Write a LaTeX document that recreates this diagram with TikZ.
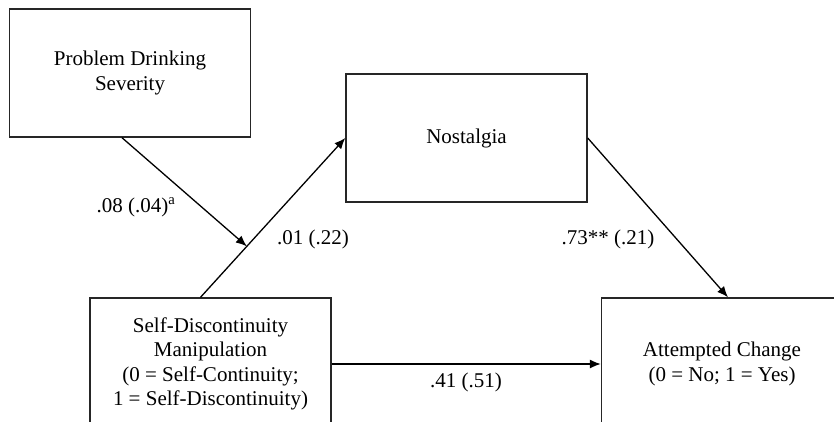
\documentclass[tikz,border=0pt]{standalone}
\usepackage{fontspec}
\setmainfont{Liberation Serif}
\usepackage{tikz}
\usetikzlibrary{positioning,arrows.meta,calc}
\tikzset{
  var/.style={rectangle,draw=black!85,line width=1.4pt,align=center,inner sep=0pt,minimum width=241pt,minimum height=128pt},
  tallvar/.style={var,minimum height=132pt},
  coef/.style={inner sep=1pt},
  edge/.style={-{Latex[length=11pt,width=9pt]},line width=1.3pt}
}

\begin{document}
\begin{tikzpicture}[x=1pt,y=-1pt,font=\fontsize{21}{24.5}\selectfont]
  \useasboundingbox (0,0) rectangle (834,421);
  \clip (0,0) rectangle (834,421);
  \node[var] (pds) at (130,73) {Problem Drinking\\Severity};
  \node[var] (nost) at (466.5,138) {Nostalgia};
  \node[tallvar] (sd) at (210.5,364) {Self-Discontinuity\\Manipulation\\(0 = Self-Continuity;\\1 = Self-Discontinuity)};
  \node[tallvar] (att) at (722,364) {Attempted Change\\(0 = No; 1 = Yes)};
  \coordinate (sdtop) at ($(sd.north)+(-10,0)$);
  \draw[edge] (sdtop) -- (nost.west) coordinate[pos=0.32] (mod);
  \draw[edge] ($(pds.south)+(-8,0)$) -- (mod);
  \draw[edge] (nost.east) -- ($(att.north)+(6,0)$);
  \draw[edge] (sd.east) -- (att.west);
  \node[coef] (lmod) at (136,207) {.08 (.04)\textsuperscript{a}};
  \node[coef] (la) at (313,239) {.01 (.22)};
  \node[coef] (lb) at (608,239) {.73** (.21)};
  \node[coef] (lc) at (466,382) {.41 (.51)};
\end{tikzpicture}
\end{document}
